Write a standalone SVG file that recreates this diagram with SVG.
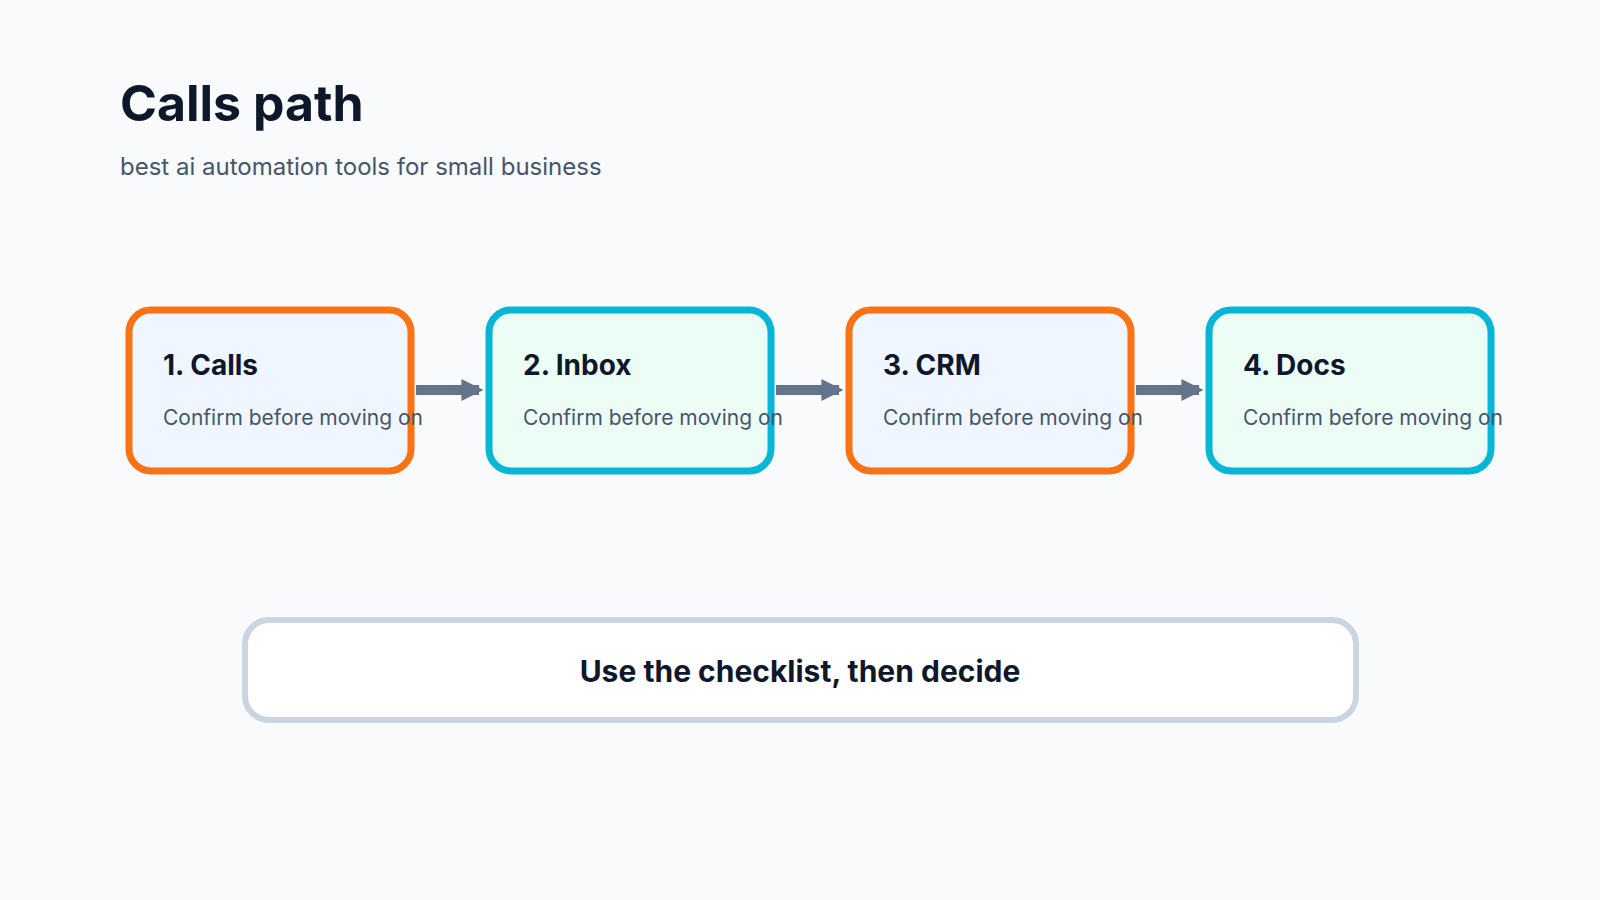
<svg xmlns="http://www.w3.org/2000/svg" width="1600" height="900" viewBox="0 0 1600 900">
<style>
text{font-family:Inter,"Liberation Sans",sans-serif}
.t{font-size:28px;font-weight:700;fill:#0f172a}
.s{font-size:21px;fill:#475569}
.o{stroke:#f97316}
.c{stroke:#06b6d4}
.n rect{stroke-width:7}
.a{stroke:#64748b;stroke-width:10;fill:none}
</style>
<defs><marker id="ah" viewBox="0 0 10 10" refX="8" refY="5" markerWidth="2.2" markerHeight="2.6" orient="auto" markerUnits="strokeWidth"><path d="M0,0L10,5L0,10z" fill="#64748b"/></marker></defs>
<rect width="1600" height="900" fill="#f8fafc"/>
<text x="120" y="121" font-size="50" font-weight="700" fill="#0f172a">Calls path</text>
<text x="120" y="175" font-size="24" fill="#475569">best ai automation tools for small business</text>
<g id="connectors">
<path class="a" d="M416,390H479" marker-end="url(#ah)"/>
<path class="a" d="M776,390H839" marker-end="url(#ah)"/>
<path class="a" d="M1136,390H1199" marker-end="url(#ah)"/>
</g>
<g id="n1" class="n"><rect class="o" x="129" y="310" width="282" height="161" rx="22" fill="#eff6ff"/><text class="t" x="163" y="375">1. Calls</text><text class="s" x="163" y="425">Confirm before moving on</text></g>
<g id="n2" class="n"><rect class="c" x="489" y="310" width="282" height="161" rx="22" fill="#ecfdf5"/><text class="t" x="523" y="375">2. Inbox</text><text class="s" x="523" y="425">Confirm before moving on</text></g>
<g id="n3" class="n"><rect class="o" x="849" y="310" width="282" height="161" rx="22" fill="#eff6ff"/><text class="t" x="883" y="375">3. CRM</text><text class="s" x="883" y="425">Confirm before moving on</text></g>
<g id="n4" class="n"><rect class="c" x="1209" y="310" width="282" height="161" rx="22" fill="#ecfdf5"/><text class="t" x="1243" y="375">4. Docs</text><text class="s" x="1243" y="425">Confirm before moving on</text></g>
<g id="note"><rect x="245" y="620" width="1111" height="100" rx="24" fill="#fff" stroke="#cbd5e1" stroke-width="6"/><text x="800" y="682" text-anchor="middle" font-size="30" font-weight="700" fill="#0f172a">Use the checklist, then decide</text></g>
</svg>
